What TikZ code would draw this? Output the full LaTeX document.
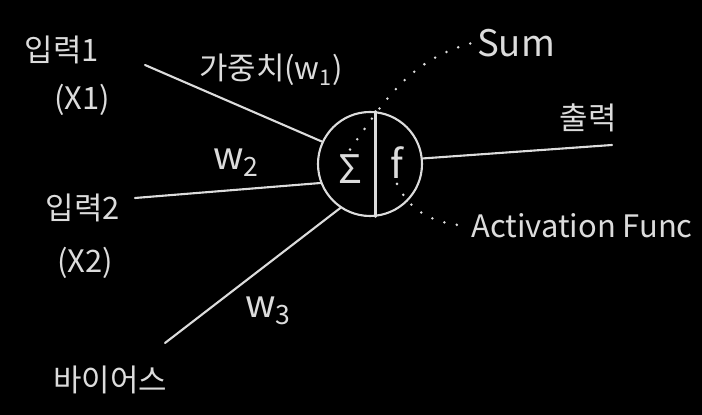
\documentclass[tikz,border=0pt]{standalone}
\usepackage{fontspec}
\setmainfont{Noto Sans CJK KR}
\definecolor{chalk}{HTML}{DCDCDC}

\begin{document}
\begin{tikzpicture}[line cap=round,line join=round,x=1.0cm,y=1.0cm,
    lbl/.style={text=chalk,font=\fontsize{22}{26}\selectfont},
    wlbl/.style={text=chalk,font=\fontsize{27}{30}\selectfont},
    wire/.style={draw=chalk,line width=1.5pt},
    dotline/.style={draw=chalk,line width=2pt,dash pattern=on 0pt off 9pt}]
    \fill[black] (0,0) rectangle (17.55,10.375);
    \useasboundingbox (0,0) rectangle (17.55,10.375);
    \node[circle,wire,minimum size=2.6cm,inner sep=0pt] (neuron) at (9.25,6.275) {};
    \draw[wire] (neuron.84) -- (neuron.-84);
    \node[lbl,font=\fontsize{28}{30}\selectfont] (sigma) at (8.75,6.15) {Σ};
    \node[lbl,font=\fontsize{28}{30}\selectfont] (func) at (9.925,6.3) {f};
    \node[lbl] (in1) at (1.55,9.125) {입력1};
    \node[lbl] (x1) at (2.05,7.875) {(X1)};
    \node[lbl] (in2) at (2.075,5.175) {입력2};
    \node[lbl] (x2) at (2.125,3.8) {(X2)};
    \node[lbl] (bias) at (2.75,0.875) {바이어스};
    \node[lbl] (w1) at (6.775,8.625) {가중치(w\textsubscript{1})};
    \node[wlbl] (w2) at (5.9,6.3) {w\textsubscript{2}};
    \node[wlbl] (w3) at (6.7,2.6) {w\textsubscript{3}};
    \node[lbl] (out) at (14.7,7.425) {출력};
    \node[lbl,font=\fontsize{26}{30}\selectfont] (sum) at (12.9,9.3) {Sum};
    \node[lbl,font=\fontsize{22}{26}\selectfont] (act) at (14.55,4.725) {Activation Func};
    \coordinate (s1) at (3.625,8.75);
    \coordinate (s2) at (3.375,5.425);
    \coordinate (s3) at (4.125,1.8);
    \coordinate (o1) at (15.3,6.75);
    \draw[wire] (s1) -- (neuron.155);
    \draw[wire] (s2) -- (neuron.201);
    \draw[wire] (s3) -- (neuron.236);
    \draw[wire] (neuron.6) -- (o1);
    \draw[dotline] (sigma.north) to[out=55,in=195] (sum.west);
    \draw[dotline] (func.south) to[out=-65,in=175] (act.west);
\end{tikzpicture}
\end{document}
